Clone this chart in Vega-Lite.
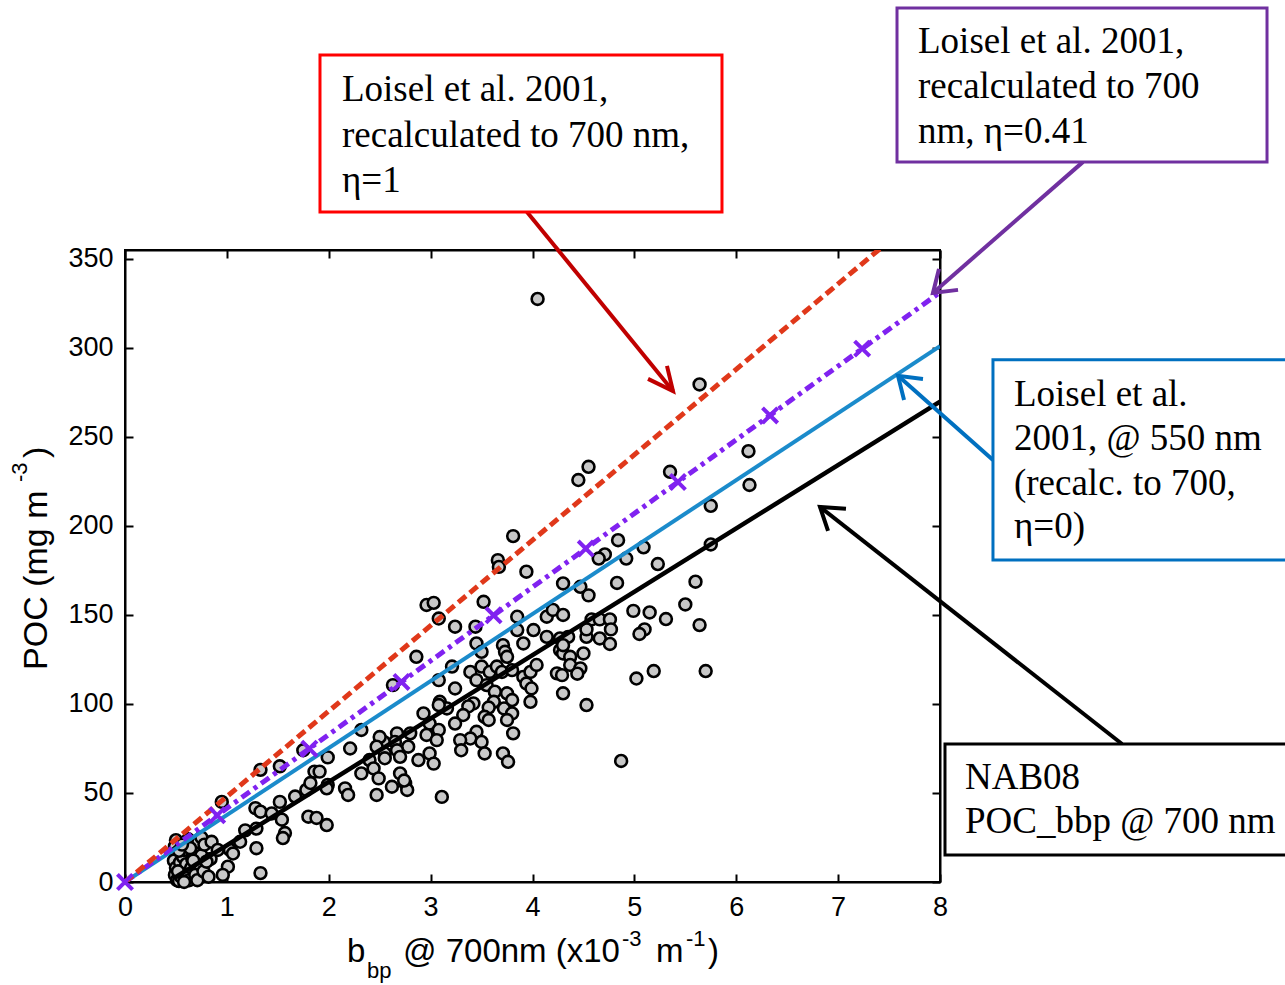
{
"$schema":"https://vega.github.io/schema/vega-lite/v6.json",
"autosize":"none",
"width":815,"height":632,
"padding":{"left":125,"top":250,"right":345,"bottom":103},
"background":"white",
"config":{"view":{"stroke":"black","strokeWidth":2}},
"datasets":{
"pts":[
{"x":0.50,"y":23.5},{"x":0.49,"y":20},{"x":0.50,"y":16},{"x":0.48,"y":12},{"x":0.50,"y":8},{"x":0.49,"y":4},{"x":0.51,"y":1},{"x":0.53,"y":0.5},{"x":0.55,"y":3},{"x":0.56,"y":7},{"x":0.54,"y":11},{"x":0.57,"y":14},{"x":0.58,"y":18},{"x":0.60,"y":21},{"x":0.62,"y":24},{"x":0.60,"y":10},{"x":0.61,"y":5},{"x":0.63,"y":1},{"x":0.65,"y":8},{"x":0.66,"y":13},{"x":0.68,"y":17},{"x":0.70,"y":20},{"x":0.72,"y":22.5},{"x":0.69,"y":4},{"x":0.73,"y":10},{"x":0.75,"y":15},{"x":0.64,"y":19},{"x":0.58,"y":0},{"x":0.71,"y":1},{"x":0.67,"y":12},{"x":0.77,"y":6},{"x":0.53,"y":17.5},{"x":0.56,"y":21},{"x":0.52,"y":6},{"x":0.75,"y":25},{"x":0.78,"y":21},{"x":0.84,"y":13},{"x":0.82,"y":3},
{"x":0.85,"y":22.6},{"x":0.91,"y":18},{"x":0.80,"y":11.4},{"x":1.03,"y":18},{"x":1.06,"y":16},{"x":1.01,"y":8.6},{"x":0.96,"y":4},{"x":1.13,"y":22.6},{"x":1.18,"y":29},{"x":1.29,"y":19},{"x":1.29,"y":30},{"x":1.33,"y":5},{"x":1.28,"y":41.5},{"x":1.33,"y":39.5},{"x":1.33,"y":63},{"x":0.95,"y":45},{"x":1.44,"y":38.5},{"x":1.54,"y":35},{"x":1.57,"y":27.5},{"x":1.55,"y":24.7},{"x":1.52,"y":45},{"x":1.67,"y":48},{"x":1.52,"y":65},{"x":1.75,"y":74},{"x":1.78,"y":51.7},{"x":1.80,"y":36.7},{"x":1.86,"y":62},{"x":1.91,"y":62},{"x":1.82,"y":55.6},{"x":1.88,"y":36},{"x":1.98,"y":32},{"x":1.99,"y":70},{"x":1.99,"y":54.5},{"x":1.98,"y":52.6},
{"x":3.81,"y":194.3},{"x":3.66,"y":180.8},{"x":3.67,"y":177},{"x":3.94,"y":174.3},{"x":2.96,"y":155.6},{"x":3.03,"y":156.8},{"x":3.52,"y":157.4},{"x":3.08,"y":148},{"x":3.24,"y":143.4},{"x":3.44,"y":143.4},{"x":3.85,"y":149},{"x":3.85,"y":141.5},{"x":4.01,"y":141.5},{"x":4.14,"y":149},{"x":4.20,"y":152.8},{"x":4.30,"y":150},{"x":4.30,"y":167.7},{"x":4.47,"y":165.8},{"x":4.55,"y":161},
{"x":3.45,"y":134},{"x":3.50,"y":129.3},{"x":3.71,"y":133},{"x":3.73,"y":129.3},{"x":3.75,"y":126.5},{"x":3.91,"y":134},{"x":4.14,"y":137.7},{"x":4.27,"y":136.8},{"x":4.35,"y":137.7},{"x":4.27,"y":130.3},{"x":4.30,"y":128.4},{"x":4.50,"y":128.4},{"x":4.53,"y":137.7},{"x":4.37,"y":126.5},{"x":4.37,"y":121.9},{"x":4.47,"y":120},{"x":4.24,"y":117.2},{"x":4.29,"y":116.2},{"x":4.44,"y":117},
{"x":2.86,"y":126.5},{"x":3.21,"y":121},{"x":3.39,"y":118},{"x":3.50,"y":121},{"x":3.58,"y":118},{"x":3.65,"y":121},{"x":3.70,"y":118},{"x":3.80,"y":119},{"x":3.91,"y":115.2},{"x":3.98,"y":118},{"x":4.04,"y":121.9},{"x":3.94,"y":111.5},{"x":3.99,"y":108.7},{"x":3.98,"y":101.2},{"x":4.30,"y":106},{"x":4.53,"y":99.4},
{"x":3.08,"y":113.4},{"x":3.24,"y":108.7},{"x":3.45,"y":113.4},{"x":3.55,"y":110.6},{"x":3.63,"y":106.9},{"x":3.75,"y":106},{"x":3.80,"y":102.2},{"x":3.62,"y":101.2},{"x":3.57,"y":98},{"x":3.72,"y":97.5},{"x":3.80,"y":94.7},{"x":3.42,"y":100.3},{"x":3.37,"y":98.6},{"x":3.32,"y":93.8},{"x":3.24,"y":89},{"x":3.09,"y":101.2},{"x":3.16,"y":97.5},{"x":2.93,"y":94.7},{"x":2.99,"y":89},{"x":3.08,"y":85.4},{"x":2.96,"y":82.6},{"x":3.06,"y":79.7},{"x":3.53,"y":92.8},{"x":3.57,"y":91},{"x":3.75,"y":91},{"x":3.81,"y":83.5},{"x":3.71,"y":72.2},{"x":3.76,"y":67.5},{"x":3.45,"y":84.4},{"x":3.39,"y":80.6},{"x":3.50,"y":78.7},{"x":3.53,"y":72.2},{"x":3.29,"y":79.7},{"x":3.30,"y":74},{"x":2.99,"y":72.2},{"x":3.03,"y":66.5},{"x":3.11,"y":47.8},{"x":2.80,"y":83.5},{"x":2.78,"y":76},{"x":2.88,"y":68.5},{"x":2.67,"y":83.5},{"x":2.65,"y":78.7},{"x":2.67,"y":74},{"x":2.70,"y":70.3},{"x":2.54,"y":78.7},{"x":2.50,"y":81.4},{"x":2.47,"y":76},{"x":2.55,"y":72.2},{"x":2.55,"y":69.5},{"x":2.40,"y":68.5},{"x":2.44,"y":63.8},{"x":2.32,"y":61},{"x":2.49,"y":58.2},{"x":2.62,"y":53.5},{"x":2.70,"y":61},{"x":2.75,"y":55.4},{"x":2.77,"y":51.7},{"x":2.74,"y":57},{"x":2.47,"y":48.9},{"x":2.16,"y":52.6},{"x":2.19,"y":48.9},{"x":2.21,"y":75},{"x":2.32,"y":85.4},{"x":2.63,"y":110.6},{"x":3.08,"y":99.4},
{"x":4.55,"y":233.2},{"x":4.45,"y":225.8},{"x":5.64,"y":279.5},{"x":5.35,"y":230.4},{"x":6.12,"y":242},{"x":6.13,"y":223},{"x":5.75,"y":211.3},{"x":4.84,"y":192},{"x":5.09,"y":188},{"x":4.71,"y":184},{"x":4.65,"y":181.7},{"x":4.92,"y":181.7},{"x":5.23,"y":178.6},{"x":5.75,"y":189.6},{"x":5.60,"y":168.7},{"x":4.83,"y":168},{"x":5.50,"y":155.9},{"x":4.99,"y":152.3},{"x":5.15,"y":151.4},{"x":5.31,"y":147.7},{"x":5.64,"y":144.3},{"x":4.58,"y":147.5},{"x":4.66,"y":147.5},{"x":4.76,"y":147.5},{"x":4.53,"y":141.9},{"x":4.77,"y":141.9},{"x":5.10,"y":141.9},{"x":5.05,"y":139.3},{"x":4.66,"y":136.8},{"x":4.76,"y":133.7},{"x":4.30,"y":133},{"x":5.02,"y":114.3},{"x":5.19,"y":118.5},{"x":5.70,"y":118.5},{"x":4.87,"y":68},{"x":4.05,"y":327.5}
],
"fits":[
{"s":"nab","x":0.48,"y":2.1},{"s":"nab","x":8,"y":269.8},
{"s":"eta0","x":0,"y":0},{"s":"eta0","x":8,"y":301},
{"s":"eta041","x":0,"y":0},{"s":"eta041","x":8,"y":331.2},
{"s":"eta1","x":0,"y":0},{"s":"eta1","x":8,"y":384}
],
"marks":[
{"x":0,"y":0},{"x":0.905,"y":37.5},{"x":1.81,"y":74.9},{"x":2.714,"y":112.4},{"x":3.618,"y":149.8},{"x":4.523,"y":187.3},{"x":5.427,"y":224.7},{"x":6.332,"y":262.1},{"x":7.236,"y":299.6}
],
"boxes":[
{"x1":1.914,"x2":5.860,"y1":376.4,"y2":464.6,"c":"#FF0000"},
{"x1":7.578,"x2":11.210,"y1":404.5,"y2":491.0,"c":"#7030A0"},
{"x1":8.52,"x2":11.6,"y1":180.9,"y2":293.3,"c":"#0070C0"},
{"x1":8.049,"x2":11.6,"y1":15.2,"y2":77.5,"c":"#000000"}
],
"arrows":[
{"g":"r1","o":0,"x":3.946,"y":376.4,"c":"#C00000"},{"g":"r1","o":1,"x":5.379,"y":275.8,"c":"#C00000"},
{"g":"r2","o":0,"x":5.320,"y":289.9,"c":"#C00000"},{"g":"r2","o":1,"x":5.379,"y":275.8,"c":"#C00000"},{"g":"r2","o":2,"x":5.134,"y":282.6,"c":"#C00000"},
{"g":"p1","o":0,"x":9.404,"y":404.5,"c":"#7030A0"},{"g":"p1","o":1,"x":7.931,"y":330.9,"c":"#7030A0"},
{"g":"p2","o":0,"x":8.177,"y":332.6,"c":"#7030A0"},{"g":"p2","o":1,"x":7.931,"y":330.9,"c":"#7030A0"},{"g":"p2","o":2,"x":7.990,"y":344.4,"c":"#7030A0"},
{"g":"b1","o":0,"x":8.520,"y":237.1,"c":"#0070C0"},{"g":"b1","o":1,"x":7.588,"y":284.3,"c":"#0070C0"},
{"g":"b2","o":0,"x":7.647,"y":270.8,"c":"#0070C0"},{"g":"b2","o":1,"x":7.588,"y":284.3,"c":"#0070C0"},{"g":"b2","o":2,"x":7.833,"y":282.6,"c":"#0070C0"},
{"g":"k1","o":0,"x":9.787,"y":77.5,"c":"#000000"},{"g":"k1","o":1,"x":6.822,"y":210.7,"c":"#000000"},
{"g":"k2","o":0,"x":6.901,"y":197.2,"c":"#000000"},{"g":"k2","o":1,"x":6.822,"y":210.7,"c":"#000000"},{"g":"k2","o":2,"x":7.077,"y":209.6,"c":"#000000"}
],
"notes":[
{"x":2.130,"y":438.8,"t":"Loisel et al. 2001,"},
{"x":2.130,"y":412.9,"t":"recalculated to 700 nm,"},
{"x":2.130,"y":387.6,"t":"η=1"},
{"x":7.784,"y":465.6,"t":"Loisel et al. 2001,"},
{"x":7.784,"y":440.3,"t":"recalculated to 700"},
{"x":7.784,"y":415.0,"t":"nm, η=0.41"},
{"x":8.726,"y":267.4,"t":"Loisel et al."},
{"x":8.726,"y":242.7,"t":"2001, @ 550 nm"},
{"x":8.726,"y":217.4,"t":"(recalc. to 700,"},
{"x":8.726,"y":193.3,"t":"η=0)"},
{"x":8.245,"y":52.2,"t":"NAB08"},
{"x":8.245,"y":27.5,"t":"POC_bbp @ 700 nm"}
],
"titles":[
{"x":2.179,"y":-44.9,"t":"b","fs":33,"a":0},
{"x":2.375,"y":-53.9,"t":"bp","fs":22,"a":0},
{"x":2.729,"y":-44.9,"t":"@ 700nm (x10","fs":33,"a":0},
{"x":4.879,"y":-36.0,"t":"-3","fs":22,"a":0},
{"x":5.212,"y":-44.9,"t":"m","fs":33,"a":0},
{"x":5.507,"y":-36.0,"t":"-1","fs":22,"a":0},
{"x":5.723,"y":-44.9,"t":")","fs":33,"a":0},
{"x":-0.766,"y":119.1,"t":"POC (mg m","fs":34,"a":270},
{"x":-0.962,"y":224.7,"t":"-3","fs":22,"a":270},
{"x":-0.766,"y":238.2,"t":")","fs":34,"a":270}
]
},
"resolve":{"axis":{"x":"independent","y":"independent"}},
"layer":[
{"data":{"name":"pts"},
 "mark":{"type":"point","shape":"circle","filled":true,"fill":"#C8C8C8","stroke":"black","strokeWidth":2.6,"size":140,"opacity":1},
 "encoding":{
  "x":{"field":"x","type":"quantitative","scale":{"domain":[0,8],"nice":false,"zero":false},
   "axis":{"orient":"bottom","values":[0,1,2,3,4,5,6,7,8],"labelFontSize":27,"labelFont":"Liberation Sans","labelColor":"black","tickSize":-8,"tickWidth":2,"tickColor":"black","domainColor":"black","domainWidth":2,"labelPadding":20,"grid":false,"title":null,"labelFlush":false,"labelOverlap":false}},
  "y":{"field":"y","type":"quantitative","scale":{"domain":[0,355],"nice":false,"zero":false},
   "axis":{"orient":"left","values":[0,50,100,150,200,250,300,350],"labelFontSize":27,"labelFont":"Liberation Sans","labelColor":"black","tickSize":-8,"tickWidth":2,"tickColor":"black","domainColor":"black","domainWidth":2,"labelPadding":20,"grid":false,"title":null,"labelFlush":false,"labelOverlap":false}}
 }},
{"data":{"name":"fits"},"transform":[{"filter":"datum.s==='nab'"}],
 "mark":{"type":"line","color":"black","strokeWidth":4.5,"clip":true},
 "encoding":{
  "x":{"field":"x","type":"quantitative","axis":{"orient":"top","values":[0,1,2,3,4,5,6,7,8],"labels":false,"tickSize":-8,"tickWidth":2,"tickColor":"black","domainColor":"black","domainWidth":2,"grid":false,"title":null}},
  "y":{"field":"y","type":"quantitative","axis":{"orient":"right","values":[0,50,100,150,200,250,300,350],"labels":false,"tickSize":-8,"tickWidth":2,"tickColor":"black","domainColor":"black","domainWidth":2,"grid":false,"title":null}}
 }},
{"data":{"name":"fits"},"transform":[{"filter":"datum.s==='eta0'"}],
 "mark":{"type":"line","color":"#1B8BCB","strokeWidth":4,"clip":true},
 "encoding":{"x":{"field":"x","type":"quantitative","axis":null},"y":{"field":"y","type":"quantitative","axis":null}}},
{"data":{"name":"fits"},"transform":[{"filter":"datum.s==='eta041'"}],
 "mark":{"type":"line","color":"#8022F0","strokeWidth":5,"strokeDash":[10,5,4,5],"clip":true},
 "encoding":{"x":{"field":"x","type":"quantitative","axis":null},"y":{"field":"y","type":"quantitative","axis":null}}},
{"data":{"name":"fits"},"transform":[{"filter":"datum.s==='eta1'"}],
 "mark":{"type":"line","color":"#E0381A","strokeWidth":5,"strokeDash":[10,5],"clip":true},
 "encoding":{"x":{"field":"x","type":"quantitative","axis":null},"y":{"field":"y","type":"quantitative","axis":null}}},
{"data":{"name":"marks"},
 "mark":{"type":"point","shape":"M-1,-1L1,1M-1,1L1,-1","filled":false,"stroke":"#8022F0","strokeWidth":4,"size":230,"opacity":1},
 "encoding":{"x":{"field":"x","type":"quantitative","axis":null},"y":{"field":"y","type":"quantitative","axis":null}}},
{"data":{"name":"arrows"},
 "mark":{"type":"line","strokeWidth":4,"strokeJoin":"miter","clip":false},
 "encoding":{"x":{"field":"x","type":"quantitative","axis":null},"y":{"field":"y","type":"quantitative","axis":null},
  "detail":{"field":"g","type":"nominal"},"order":{"field":"o","type":"quantitative"},
  "stroke":{"field":"c","type":"nominal","scale":null}}},
{"data":{"name":"boxes"},
 "mark":{"type":"rect","fill":"white","strokeWidth":3,"clip":false},
 "encoding":{"x":{"field":"x1","type":"quantitative","axis":null},"x2":{"field":"x2"},"y":{"field":"y1","type":"quantitative","axis":null},"y2":{"field":"y2"},
  "stroke":{"field":"c","type":"nominal","scale":null}}},
{"data":{"name":"notes"},
 "mark":{"type":"text","font":"Liberation Serif","fontSize":37,"align":"left","baseline":"alphabetic","color":"black","clip":false},
 "encoding":{"x":{"field":"x","type":"quantitative","axis":null},"y":{"field":"y","type":"quantitative","axis":null},"text":{"field":"t"}}},
{"data":{"name":"titles"},
 "mark":{"type":"text","font":"Liberation Sans","align":"left","baseline":"alphabetic","color":"black","clip":false},
 "encoding":{"x":{"field":"x","type":"quantitative","axis":null},"y":{"field":"y","type":"quantitative","axis":null},"text":{"field":"t"},
  "size":{"field":"fs","type":"quantitative","scale":null},"angle":{"field":"a","type":"quantitative","scale":null}}}
]
}
